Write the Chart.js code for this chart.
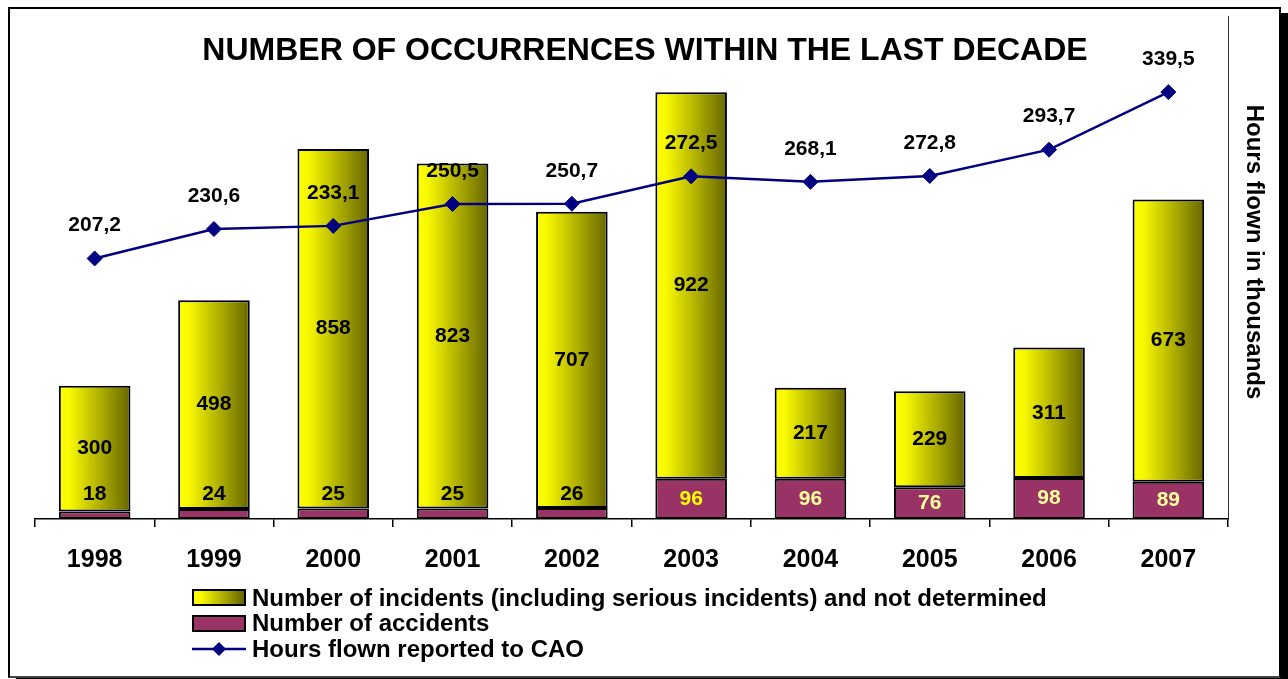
<!DOCTYPE html>
<html>
<head>
<meta charset="utf-8">
<title>Number of occurrences within the last decade</title>
<script src="https://cdn.jsdelivr.net/npm/chart.js@4.4.1/dist/chart.umd.min.js"></script>
<style>
  html, body { margin: 0; padding: 0; background: #fff; }
  body {
    width: 1288px; height: 679px; position: relative; overflow: hidden;
    font-family: 'Liberation Sans', Arial, sans-serif;
  }
  #frame {
    position: absolute; left: 8px; top: 7px; width: 1269px; height: 667px;
    border: 2px solid #000; border-bottom-color: #444;
    box-shadow: 8px 6px 0 #000;
  }
  #chart { position: absolute; left: 0; top: 0; }
  #legend {
    position: absolute; left: 192px; top: 585px;
    font-weight: bold; font-size: 24px; color: #000;
  }
  #legend .row { height: 25.5px; display: flex; align-items: center; white-space: nowrap; }
  #legend .swatch { width: 50px; height: 13px; border: 2px solid #000; margin-right: 6px; }
  #legend svg { margin-right: 6px; }
</style>
</head>
<body>
<div id="frame"></div>
<canvas id="chart" width="1288" height="679"></canvas>
<div id="legend"></div>

<script>
// ---- data ----
const years = ['1998', '1999', '2000', '2001', '2002', '2003', '2004', '2005', '2006', '2007'];
const incidents = [300, 498, 858, 823, 707, 922, 217, 229, 311, 673];
const accidents = [18, 24, 25, 25, 26, 96, 96, 76, 98, 89];
const hoursFlown = [207.2, 230.6, 233.1, 250.5, 250.7, 272.5, 268.1, 272.8, 293.7, 339.5];

const seriesNames = [
  'Number of incidents (including serious incidents) and not determined',
  'Number of accidents',
  'Hours flown reported to CAO'
];
const chartTitle = 'NUMBER OF OCCURRENCES WITHIN THE LAST DECADE';
const hoursAxisTitle = 'Hours flown in thousands';
const countMax = 1200;
const hoursMax = 400;

// ---- styles ----
const FONT = "'Liberation Sans', Arial, sans-serif";
const accidentColor = '#993366';
const lineColor = '#000080';
const accidentLabelColors = ['#000', '#000', '#000', '#000', '#000',
  '#ffff00', '#ffff99', '#ffff99', '#ffff99', '#ffff99'];
const barPct = 0.6;

// yellow -> olive gradient across the width of each incident bar
function barGradient(context) {
  const chart = context.chart;
  const { ctx, chartArea, scales } = chart;
  if (!chartArea || context.type !== 'data') return '#ffff00';
  const x = scales.x.getPixelForValue(context.dataIndex);
  const half = scales.x.width / years.length * barPct / 2;
  const g = ctx.createLinearGradient(x - half, 0, x + half, 0);
  g.addColorStop(0, '#ffff00');
  g.addColorStop(0.15, '#f8f800');
  g.addColorStop(1, '#666600');
  return g;
}

const fmtHours = v => v.toFixed(1).replace('.', ',');

// value labels, title and right-hand axis caption
const chartText = {
  id: 'chartText',
  afterDatasetsDraw(chart) {
    const ctx = chart.ctx;
    ctx.save();
    ctx.font = 'bold 21px ' + FONT;
    ctx.textAlign = 'center';
    ctx.textBaseline = 'middle';
    chart.data.datasets.forEach((ds, di) => {
      const meta = chart.getDatasetMeta(di);
      meta.data.forEach((el, i) => {
        const v = ds.data[i];
        if (ds.type === 'line') {
          ctx.fillStyle = '#000';
          ctx.fillText(fmtHours(v), el.x, el.y - 33);
          return;
        }
        const h = el.base - el.y;
        let y = (el.y + el.base) / 2;
        let color = ds.labelColors ? ds.labelColors[i] : '#000';
        if (h < 24) { y = el.base - 25; color = '#000'; }
        ctx.fillStyle = color;
        ctx.fillText(String(v), el.x, y);
      });
    });
    ctx.restore();
  },
  afterDraw(chart) {
    const ctx = chart.ctx;
    ctx.save();
    ctx.fillStyle = '#000';
    ctx.textAlign = 'center';
    ctx.textBaseline = 'alphabetic';
    ctx.font = 'bold 32px ' + FONT;
    ctx.fillText(chartTitle, 645, 60);

    ctx.font = 'bold 24px ' + FONT;
    ctx.textBaseline = 'middle';
    ctx.translate(1254, 252);
    ctx.rotate(Math.PI / 2);
    ctx.fillText(hoursAxisTitle, 0, 0);
    ctx.restore();
  }
};

const chart = new Chart(document.getElementById('chart'), {
  type: 'bar',
  data: {
    labels: years,
    datasets: [
      {
        type: 'line',
        label: seriesNames[2],
        data: hoursFlown,
        yAxisID: 'y1',
        order: 0,
        borderColor: lineColor,
        borderWidth: 2.5,
        backgroundColor: lineColor,
        pointStyle: 'rectRot',
        pointRadius: 7.5,
        pointBorderWidth: 1,
        pointBorderColor: lineColor,
        tension: 0
      },
      {
        label: seriesNames[1],
        data: accidents,
        yAxisID: 'y',
        order: 1,
        backgroundColor: accidentColor,
        borderColor: '#000',
        borderWidth: 2,
        borderSkipped: false,
        labelColors: accidentLabelColors
      },
      {
        label: seriesNames[0],
        data: incidents,
        yAxisID: 'y',
        order: 1,
        backgroundColor: barGradient,
        borderColor: '#000',
        borderWidth: 2,
        borderSkipped: false
      }
    ]
  },
  options: {
    responsive: false,
    animation: false,
    layout: { padding: { left: 35, top: 16, right: 20, bottom: 100 } },
    categoryPercentage: 1,
    barPercentage: barPct,
    plugins: {
      legend: { display: false },
      title: { display: false },
      tooltip: { enabled: false }
    },
    scales: {
      x: {
        stacked: true,
        afterFit: s => { s.height = 60; },
        grid: {
          offset: true,
          drawOnChartArea: false,
          drawTicks: true,
          tickLength: 8,
          color: '#000',
          lineWidth: 1.5
        },
        border: { display: true, color: '#000', width: 1.5 },
        ticks: {
          padding: 18,
          color: '#000',
          font: { family: FONT, size: 25, weight: 'bold' }
        }
      },
      y: {
        stacked: true,
        display: false,
        min: 0,
        max: countMax
      },
      y1: {
        position: 'right',
        min: 0,
        max: hoursMax,
        afterFit: s => { s.width = 40; },
        grid: { drawOnChartArea: false, drawTicks: false },
        border: { display: true, color: '#333', width: 1 },
        ticks: { display: false }
      }
    }
  },
  plugins: [chartText]
});

// legend below the plot, built from the dataset names
const legend = document.getElementById('legend');
const swatches = [
  '<div class="swatch" style="background:linear-gradient(to right,#ffff00 0%,#f8f800 15%,#666600 100%)"></div>',
  '<div class="swatch" style="background:' + accidentColor + '"></div>',
  '<svg width="54" height="20"><line x1="0" y1="10" x2="54" y2="10" stroke="' + lineColor +
    '" stroke-width="2.5"/><polygon points="27,3 34,10 27,17 20,10" fill="' + lineColor + '"/></svg>'
];
seriesNames.forEach((name, i) => {
  const row = document.createElement('div');
  row.className = 'row';
  row.innerHTML = swatches[i] + '<span>' + name + '</span>';
  legend.appendChild(row);
});
</script>
</body>
</html>
